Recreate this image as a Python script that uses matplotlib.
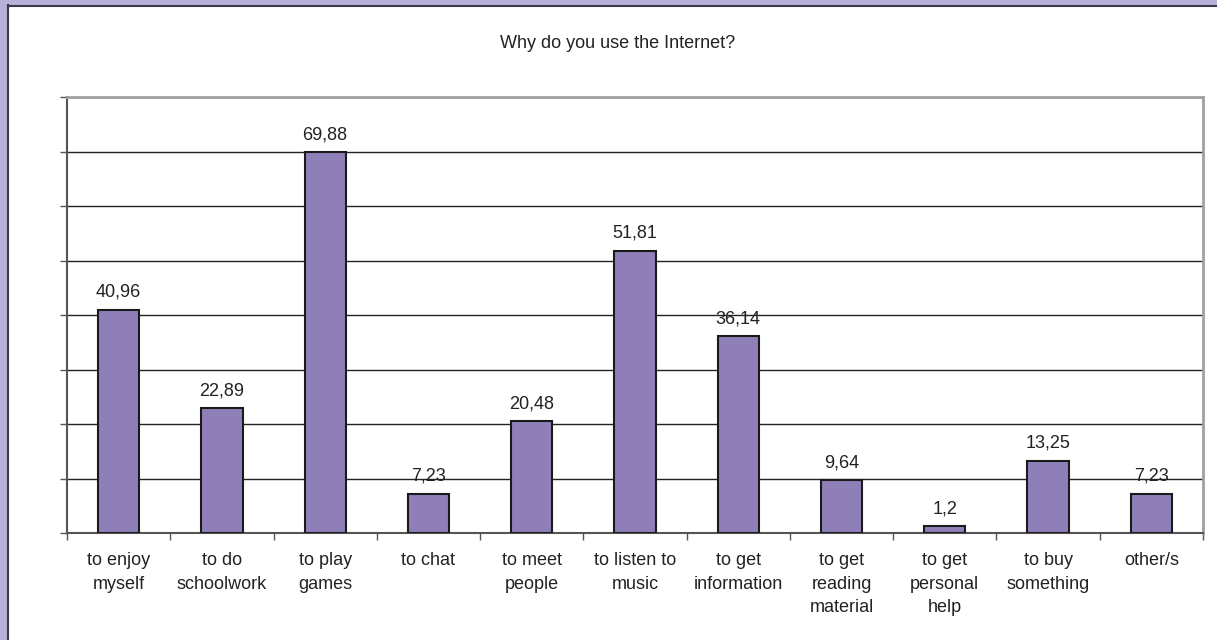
import matplotlib
matplotlib.use("Agg")
import matplotlib.pyplot as plt
from matplotlib.patches import Rectangle
from matplotlib.lines import Line2D
import numpy as np

plt.rcParams['font.family'] = ['Liberation Sans', 'DejaVu Sans']

categories = ["to enjoy\nmyself", "to do\nschoolwork", "to play\ngames", "to chat",
              "to meet\npeople", "to listen to\nmusic", "to get\ninformation",
              "to get\nreading\nmaterial", "to get\npersonal\nhelp", "to buy\nsomething",
              "other/s"]
values = [40.96, 22.89, 69.88, 7.23, 20.48, 51.81, 36.14, 9.64, 1.2, 13.25, 7.23]
value_labels = ["40,96", "22,89", "69,88", "7,23", "20,48", "51,81", "36,14",
                "9,64", "1,2", "13,25", "7,23"]

W, H = 1217, 640
fig = plt.figure(figsize=(W / 100, H / 100), dpi=100)
fig.patch.set_facecolor("white")

# lavender frame along the top and left edges
frame = "#b8b1d8"
fig.add_artist(Rectangle((0, 1 - 5 / H), 1, 5 / H, transform=fig.transFigure,
                         facecolor=frame, edgecolor="none", zorder=0))
fig.add_artist(Rectangle((0, 0), 7.5 / W, 1, transform=fig.transFigure,
                         facecolor=frame, edgecolor="none", zorder=0))
fig.add_artist(Line2D([7.5 / W, 1], [1 - 5.5 / H, 1 - 5.5 / H], transform=fig.transFigure,
                      color="#3c3a4a", lw=1.5))
fig.add_artist(Line2D([8 / W, 8 / W], [0, 1 - 5 / H], transform=fig.transFigure,
                      color="#3c3a4a", lw=1.5))

left, right = 67 / W, 1203 / W
top, bottom = 1 - 97 / H, 1 - 533 / H
ax = fig.add_axes([left, bottom, right - left, top - bottom])

x = np.arange(len(categories))
ax.bar(x, values, width=0.40, color="#8f7fb8", edgecolor="#1a1a1a", linewidth=1.5, zorder=3)

for xi, v, lab in zip(x, values, value_labels):
    ax.annotate(lab, (xi, v), xytext=(0, 6.5), textcoords="offset points",
                ha="center", va="bottom", fontsize=13, color="#222222")

ax.set_xlim(-0.5, len(categories) - 0.5)
ax.set_ylim(0, 80)

ax.set_yticks(np.arange(0, 81, 10))
ax.set_yticklabels([])
ax.yaxis.grid(True, color="#222222", linewidth=1.0, zorder=0)
ax.set_axisbelow(True)

ax.set_xticks(x)
ax.set_xticklabels(categories, fontsize=13, color="#222222", linespacing=1.5, va="top")
ax.tick_params(axis="x", which="major", length=0, pad=14)
ax.set_xticks(np.arange(-0.5, len(categories), 1), minor=True)
ax.tick_params(axis="x", which="minor", length=5, width=1, color="#555555", direction="out")
ax.tick_params(axis="y", length=5, width=1, color="#555555", direction="out")

for s in ("left", "bottom"):
    ax.spines[s].set_color("#555555")
    ax.spines[s].set_linewidth(1.5)
for s in ("top", "right"):
    ax.spines[s].set_color("#a0a0a0")
    ax.spines[s].set_linewidth(2)

fig.text(618 / W, 1 - 43 / H, "Why do you use the Internet?",
         ha="center", va="center", fontsize=13, color="#222222")

fig.savefig("out.png", dpi=100)
